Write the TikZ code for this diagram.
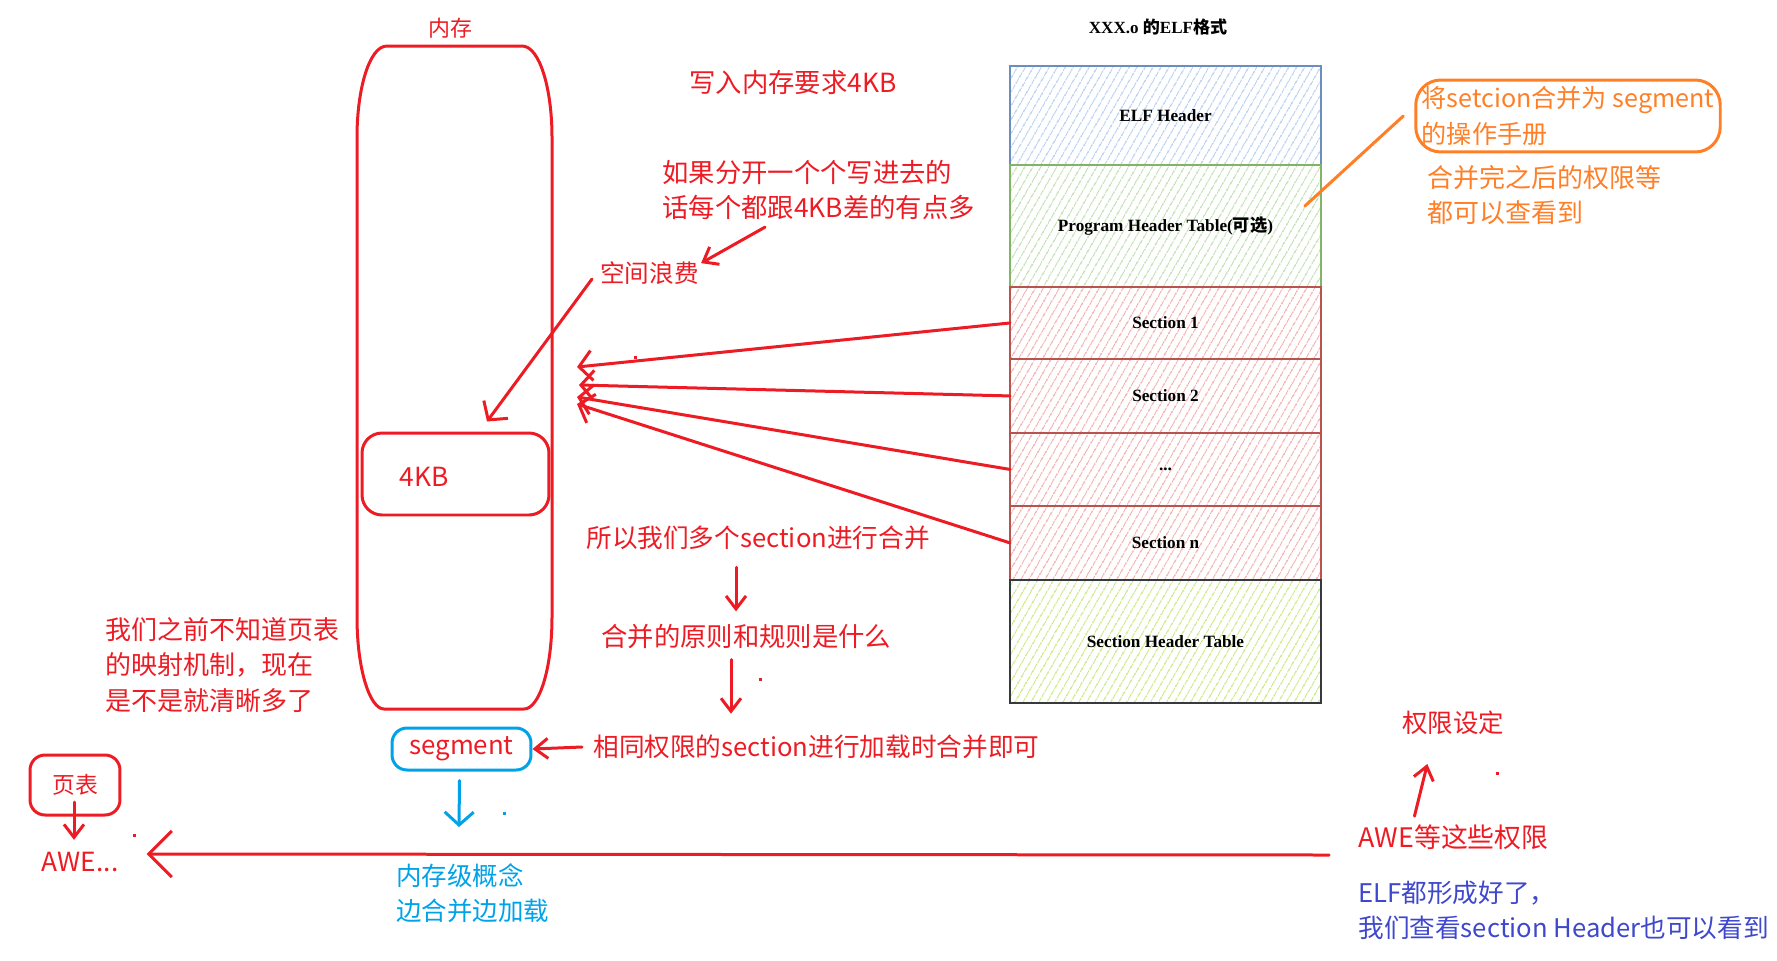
\documentclass[tikz,border=0pt]{standalone}
\usepackage{fontspec}
\setmainfont{Liberation Serif}
\newfontfamily\cjk{Noto Sans CJK SC}
\usepackage{tikz}
\usetikzlibrary{arrows.meta, positioning, patterns.meta}
\definecolor{pred}{HTML}{ED1C24}
\definecolor{pcyan}{HTML}{00A2E8}
\definecolor{porange}{HTML}{FF7F27}
\definecolor{pindigo}{HTML}{3F48CC}
\definecolor{elfblue}{HTML}{6C8EBF}
\definecolor{elfgreen}{HTML}{82B366}
\definecolor{elfred}{HTML}{B85450}
\definecolor{elfdark}{HTML}{36393D}
\definecolor{hatchblue}{HTML}{B3CCF0}
\definecolor{hatchgreen}{HTML}{BCDDAC}
\definecolor{hatchred}{HTML}{F0AAA8}
\definecolor{hatchlime}{HTML}{C5E87A}
\tikzset{
  hand/.style={inner sep=0pt, align=left, font=\cjk\fontsize{#1}{20}\selectfont},
  hand/.default=14.8,
  pen/.style={line width=0.06cm, line cap=round, line join=round},
  redarrow/.style={pen, draw=pred, -{Straight Barb[length=0.26cm, width=0.6cm]}},
  smallarrow/.style={pen, draw=pred, -{Straight Barb[length=0.26cm, width=0.4cm]}},
  bluearrow/.style={pen, draw=pcyan, -{Straight Barb[length=0.26cm, width=0.58cm]}},
  bigarrow/.style={pen, draw=pred, -{Straight Barb[length=0.46cm, width=0.92cm]}},
  elfbox/.style={draw, line width=0.04cm, minimum width=6.22cm, inner sep=0pt, outer sep=0pt,
    font=\bfseries\fontsize{9.8}{12}\selectfont,
    pattern={Lines[angle=60, distance=4pt, line width=0.7pt]}},
}
\begin{document}
\begin{tikzpicture}[x=0.02cm, y=-0.02cm]
  \useasboundingbox (0,0) rectangle (1777,960);

  % memory column
  \node[hand=12.5, pred] (mem) at (450,28) {内存};
  \draw[pen, pred] (387,46) -- (522,46) .. controls (540,46) and (552,90) .. (552,137)
    -- (552,617) .. controls (552,670) and (539,709) .. (524,709) -- (384,709)
    .. controls (370,709) and (357,670) .. (357,617) -- (357,137)
    .. controls (357,90) and (369,46) .. (387,46) -- cycle;
  \node[pen, draw=pred, rounded corners=0.4cm, minimum width=3.74cm, minimum height=1.64cm] (kbbox) at (455.5,474) {};
  \node[hand=15, pred] (kb) at (424,477) {4KB};

  % ELF layout
  \node[font=\bfseries\fontsize{9.7}{12}\selectfont] (elftitle) at (1158,27) {XXX.o {\cjk 的}ELF{\cjk 格式}};
  \node[elfbox, draw=elfblue, pattern color=hatchblue, minimum height=1.98cm] (elfhdr) at (1165.5,115.5) {ELF Header};
  \node[elfbox, draw=elfgreen, pattern color=hatchgreen, minimum height=2.44cm, below=0pt of elfhdr] (pht) {Program Header Table({\cjk 可选})};
  \node[elfbox, draw=elfred, pattern color=hatchred, minimum height=1.44cm, below=0pt of pht] (sec1) {Section 1};
  \node[elfbox, draw=elfred, pattern color=hatchred, minimum height=1.48cm, below=0pt of sec1] (sec2) {Section 2};
  \node[elfbox, draw=elfred, pattern color=hatchred, minimum height=1.46cm, below=0pt of sec2] (secdots) {...};
  \node[elfbox, draw=elfred, pattern color=hatchred, minimum height=1.48cm, below=0pt of secdots] (secn) {Section n};
  \node[elfbox, draw=elfdark, pattern color=hatchlime, minimum height=2.46cm, below=0pt of secn] (sht) {Section Header Table};

  % sections into memory
  \coordinate (tip1) at (577,367);
  \coordinate (tip2) at (579,385);
  \coordinate (tip3) at (577,397);
  \coordinate (tip4) at (577,404);
  \draw[redarrow] (sec1.west) -- (tip1);
  \draw[redarrow] (sec2.west) -- (tip2);
  \draw[redarrow] (secdots.west) -- (tip3);
  \draw[redarrow] (secn.west) -- (tip4);

  % notes on waste
  \node[hand=15, pred, anchor=west] (req) at (689,83) {写入内存要求4KB};
  \node[hand=15, pred, anchor=west] (ruguo) at (662,190) {如果分开一个个写进去的\\话每个都跟4KB差的有点多};
  \node[hand=14, pred, anchor=west] (waste) at (600,273) {空间浪费};
  \draw[smallarrow] ([shift={(103,7)}]ruguo.south west) -- ([shift={(2,2)}]waste.north east);
  \draw[redarrow] ([shift={(-8,6)}]waste.west) -- ([shift={(31.5,-10)}]kbbox.north);

  % merge chain
  \node[hand=14.6, pred, anchor=west] (suoyi) at (586,538) {所以我们多个section进行合并};
  \node[hand=15, pred, anchor=west] (yuanze) at (601,637) {合并的原则和规则是什么};
  \node[hand=14.6, pred, anchor=west] (xiangtong) at (593,747) {相同权限的section进行加载时合并即可};
  \draw[smallarrow] ([shift={(150,17)}]suoyi.south west) -- ([shift={(135,-13)}]yuanze.north west);
  \draw[smallarrow] ([shift={(130,10)}]yuanze.south west) -- ([shift={(138,-21)}]xiangtong.north west);

  % segment
  \node[pen, draw=pcyan, rounded corners=0.3cm, minimum width=2.78cm, minimum height=0.84cm,
    text=pred, font=\cjk\fontsize{14.7}{18}\selectfont] (seg) at (461.5,749) {segment};
  \draw[smallarrow] ([shift={(-11,0)}]xiangtong.west) -- (seg.east);
  \coordinate (segdown) at (459,827);
  \draw[bluearrow] ([shift={(-2,9)}]seg.south) -- (segdown);
  \node[hand=14.5, pcyan, anchor=west] (concept) at (396,893.5) {内存级概念\\边合并边加载};

  \node[hand=14.8, pred, anchor=west] (note) at (105,665) {我们之前不知道页表\\的映射机制，现在\\是不是就清晰多了};

  % page table
  \node[pen, draw=pred, rounded corners=0.3cm, minimum width=1.8cm, minimum height=1.2cm,
    text=pred, font=\cjk\fontsize{13}{16}\selectfont] (pagetab) at (75,785) {页表};
  \node[hand=15, pred] (awe1) at (80,862) {AWE...};
  \draw[smallarrow] ([shift={(-1,17)}]pagetab.center) -- ([shift={(-6,-12)}]awe1.north);

  % permissions
  \node[hand=14.5, pred, anchor=west] (qxsd) at (1402,723) {权限设定};
  \node[hand=15.3, pred, anchor=west] (awe2) at (1358,837) {AWE等这些权限};
  \draw[smallarrow] ([shift={(-39,-8)}]awe2.north) -- ([shift={(-26,41)}]qxsd.center);
  \draw[bigarrow] ([shift={(-29,18)}]awe2.west) -- ([shift={(28,-8)}]awe1.east);
  \node[hand=14.6, pindigo, anchor=west] (elfdone) at (1358,910.5) {ELF都形成好了，\\我们查看section Header也可以看到};

  % handbook note
  \node[pen, draw=porange, rounded corners=0.5cm, text=porange, hand=14.3, inner xsep=0.12cm, inner ysep=0.08cm,
    minimum width=6cm, minimum height=1.44cm] (orbox) at (1568,116) {将setcion合并为 segment\\的操作手册};
  \draw[pen, porange] ([xshift=-0.22cm]orbox.west) -- ([shift={(-16,-20)}]pht.east);
  \node[hand=14.8, porange, anchor=west] (orperm) at (1427,195.5) {合并完之后的权限等\\都可以查看到};

  % stray marks
  \fill[pred] (634,356) rectangle ++(3,3);
  \fill[pred] (759,678) rectangle ++(3,3);
  \fill[pred] (133,834) rectangle ++(3,3);
  \fill[pred] (1496,772) rectangle ++(3,3);
  \fill[pcyan] (503,812) rectangle ++(3,3);
\end{tikzpicture}
\end{document}
